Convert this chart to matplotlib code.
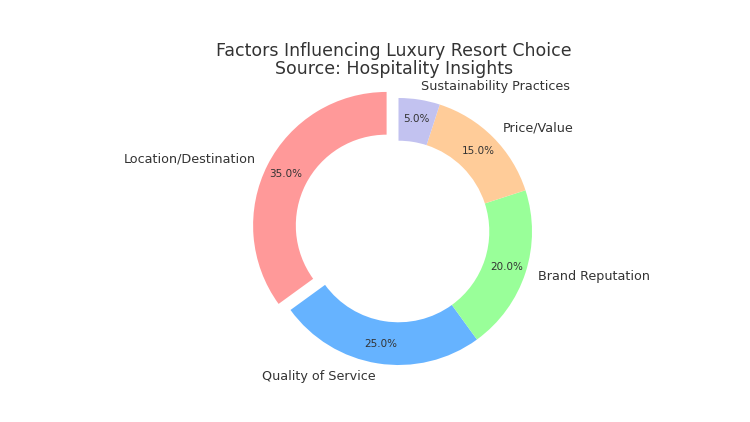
import matplotlib.pyplot as plt

labels = ['Location/Destination', 'Quality of Service', 'Brand Reputation',
          'Price/Value', 'Sustainability Practices']
shares = [35, 25, 20, 15, 5]
colors = ['#ff9999', '#66b3ff', '#99ff99', '#ffcc99', '#c2c2f0']
explode = [0.1, 0, 0, 0, 0]

fig = plt.figure(figsize=(7.5, 4.22), dpi=100)
ax = fig.add_axes([0, 0, 1, 1])

wedges, texts, autotexts = ax.pie(
    shares, labels=labels, colors=colors, explode=explode,
    autopct='%1.1f%%', startangle=90, pctdistance=0.85, labeldistance=1.1,
    wedgeprops=dict(width=0.32, edgecolor='none'),
    textprops=dict(color='#333333', fontsize=9.2))
for t in autotexts:
    t.set_fontsize(7.5)

# pie centre at (398.5, 231.5) px from top-left, radius ~133.5 px
s = 133.5
cx, cy = 398.5, 231.5
ax.set_xlim(-cx / s, (750 - cx) / s)
ax.set_ylim(-(422 - cy) / s, cy / s)
ax.set_aspect('auto')
ax.axis('off')

fig.text(0.525, 0.816, 'Factors Influencing Luxury Resort Choice\nSource: Hospitality Insights',
         ha='center', va='bottom', fontsize=12.5, color='#333333', linespacing=1.0)

fig.savefig('out.png', dpi=100)
